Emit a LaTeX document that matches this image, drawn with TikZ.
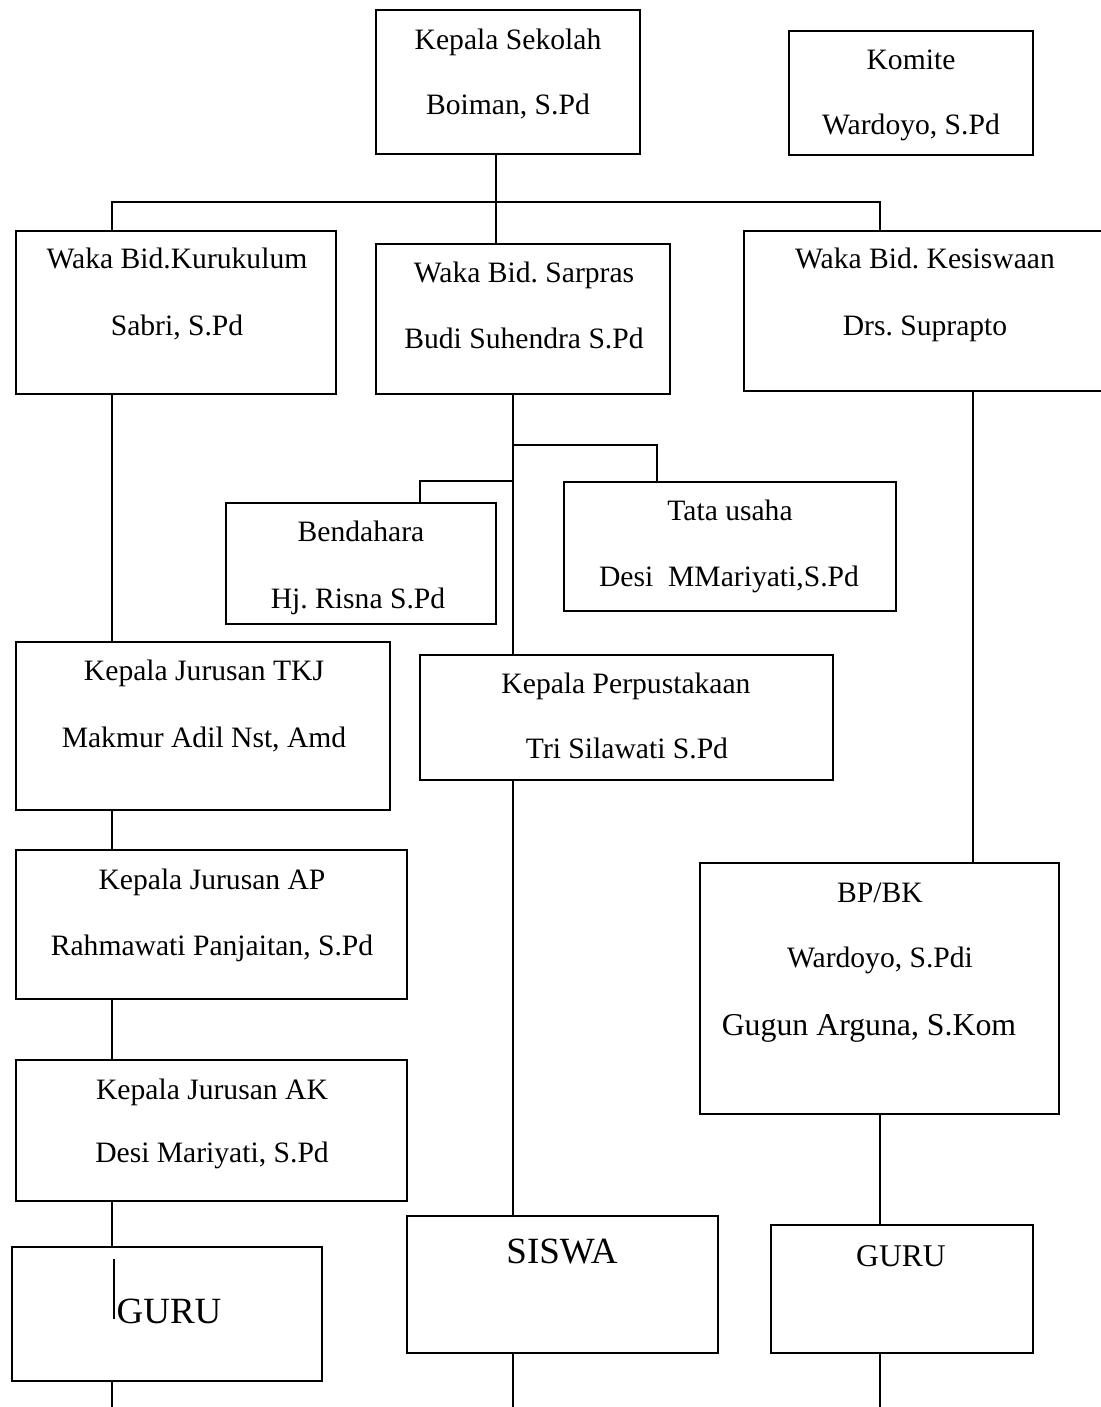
\documentclass[tikz,border=0pt]{standalone}
\usepackage{fontspec}
\setmainfont{Liberation Serif}
\frenchspacing
\begin{document}
\begin{tikzpicture}[x=0.5pt,y=-0.5pt,
  box/.style={draw,line width=1.4pt,inner sep=0pt},
  txt/.style={anchor=base,inner sep=0pt,font=\fontsize{14.8}{17}\selectfont},
  link/.style={line width=1.1pt}]
  \useasboundingbox (0,0) rectangle (1101,1407);

  % boxes
  \node[box,minimum width=132pt,minimum height=72pt] (kepsek) at (508,82) {};
  \node[box,minimum width=122pt,minimum height=62pt] (komite) at (911,93) {};
  \node[box,minimum width=160pt,minimum height=81.5pt] (kurikulum) at (176,312.5) {};
  \node[box,minimum width=147pt,minimum height=75pt] (sarpras) at (523,319) {};
  \node[box,minimum width=181pt,minimum height=80pt] (kesiswaan) at (925,311) {};
  \node[box,minimum width=135pt,minimum height=60.5pt] (bendahara) at (361,563.5) {};
  \node[box,minimum width=166pt,minimum height=64.5pt] (tatausaha) at (730,546.5) {};
  \node[box,minimum width=187pt,minimum height=84pt] (tkj) at (203,726) {};
  \node[box,minimum width=206.5pt,minimum height=62.5pt] (perpus) at (626.5,717.5) {};
  \node[box,minimum width=195.5pt,minimum height=74.5pt] (ap) at (211.5,924.5) {};
  \node[box,minimum width=179.5pt,minimum height=125.5pt] (bpbk) at (879.5,988.5) {};
  \node[box,minimum width=195.5pt,minimum height=70.5pt] (ak) at (211.5,1130.5) {};
  \node[box,minimum width=155pt,minimum height=67pt] (guruA) at (167,1314) {};
  \node[box,minimum width=155.5pt,minimum height=68.5pt] (siswa) at (562.5,1284.5) {};
  \node[box,minimum width=131pt,minimum height=64pt] (guruB) at (902,1289) {};

  % texts
  \node[txt] (kepsek-1) at (508,50) {Kepala Sekolah};
  \node[txt] (kepsek-2) at (508,115) {Boiman, S.Pd};
  \node[txt] (komite-1) at (911,70) {Komite};
  \node[txt] (komite-2) at (911,135) {Wardoyo, S.Pd};
  \node[txt] (kurikulum-1) at (177,269) {Waka Bid.Kurukulum};
  \node[txt] (kurikulum-2) at (177,335) {Sabri, S.Pd};
  \node[txt] (sarpras-1) at (524,282) {Waka Bid. Sarpras};
  \node[txt] (sarpras-2) at (524,348) {Budi Suhendra S.Pd};
  \node[txt] (kesiswaan-1) at (925,269) {Waka Bid. Kesiswaan};
  \node[txt] (kesiswaan-2) at (925,335) {Drs. Suprapto};
  \node[txt] (bendahara-1) at (361,541) {Bendahara};
  \node[txt] (bendahara-2) at (358,608) {Hj. Risna S.Pd};
  \node[txt] (tatausaha-1) at (730,520) {Tata usaha};
  \node[txt] (tatausaha-2) at (729,586) {Desi\ \ MMariyati,S.Pd};
  \node[txt] (tkj-1) at (204,680) {Kepala Jurusan TKJ};
  \node[txt] (tkj-2) at (204,747) {Makmur Adil Nst, Amd};
  \node[txt] (perpus-1) at (626,693) {Kepala Perpustakaan};
  \node[txt] (perpus-2) at (627,758) {Tri Silawati S.Pd};
  \node[txt] (ap-1) at (212,889) {Kepala Jurusan AP};
  \node[txt] (ap-2) at (212,955) {Rahmawati Panjaitan, S.Pd};
  \node[txt] (bpbk-1) at (880,902) {BP/BK};
  \node[txt] (bpbk-2) at (880,967) {Wardoyo, S.Pdi};
  \node[txt,font=\fontsize{15.9}{18}\selectfont] (bpbk-3) at (869,1035) {Gugun Arguna, S.Kom};
  \node[txt] (ak-1) at (212,1099) {Kepala Jurusan AK};
  \node[txt] (ak-2) at (212,1162) {Desi Mariyati, S.Pd};
  \node[txt,font=\fontsize{18.5}{22}\selectfont] (guruA-1) at (169,1323) {GURU};
  \node[txt,font=\fontsize{18.5}{22}\selectfont] (siswa-1) at (562,1263) {SISWA};
  \node[txt,font=\fontsize{15.8}{18}\selectfont] (guruB-1) at (901,1266) {GURU};
  \draw[line width=0.6pt] (114,1259) -- (114,1319);

  % connectors
  \coordinate (top) at (496,202);
  \coordinate (bar-l) at (112,202);
  \coordinate (bar-r) at (880,202);
  \coordinate (sp) at (513,445);
  \coordinate (sp-r) at (657,445);
  \coordinate (sp-l) at (420,481);
  \coordinate (kes) at (973,0);
  \coordinate (end-l) at (112,1407);
  \coordinate (end-m) at (513,1407);
  \coordinate (end-r) at (880,1407);
  \draw[link] (kepsek.south -| top) -- (top);
  \draw[link] (kurikulum.north -| bar-l) -- (bar-l) -- (bar-r) -- (kesiswaan.north -| bar-r);
  \draw[link] (top) -- (sarpras.north -| top);
  \draw[link] (kurikulum.south -| bar-l) -- (tkj.north -| bar-l);
  \draw[link] (tkj.south -| bar-l) -- (ap.north -| bar-l);
  \draw[link] (ap.south -| bar-l) -- (ak.north -| bar-l);
  \draw[link] (ak.south -| bar-l) -- (guruA.north -| bar-l);
  \draw[link] (guruA.south -| end-l) -- (end-l);
  \draw[link] (sarpras.south -| sp) -- (perpus.north -| sp);
  \draw[link] (sp) -- (sp-r) -- (tatausaha.north -| sp-r);
  \draw[link] (sp |- sp-l) -- (sp-l) -- (bendahara.north -| sp-l);
  \draw[link] (perpus.south -| sp) -- (siswa.north -| sp);
  \draw[link] (siswa.south -| end-m) -- (end-m);
  \draw[link] (kesiswaan.south -| kes) -- (bpbk.north -| kes);
  \draw[link] (bpbk.south -| end-r) -- (guruB.north -| end-r);
  \draw[link] (guruB.south -| end-r) -- (end-r);
\end{tikzpicture}
\end{document}
